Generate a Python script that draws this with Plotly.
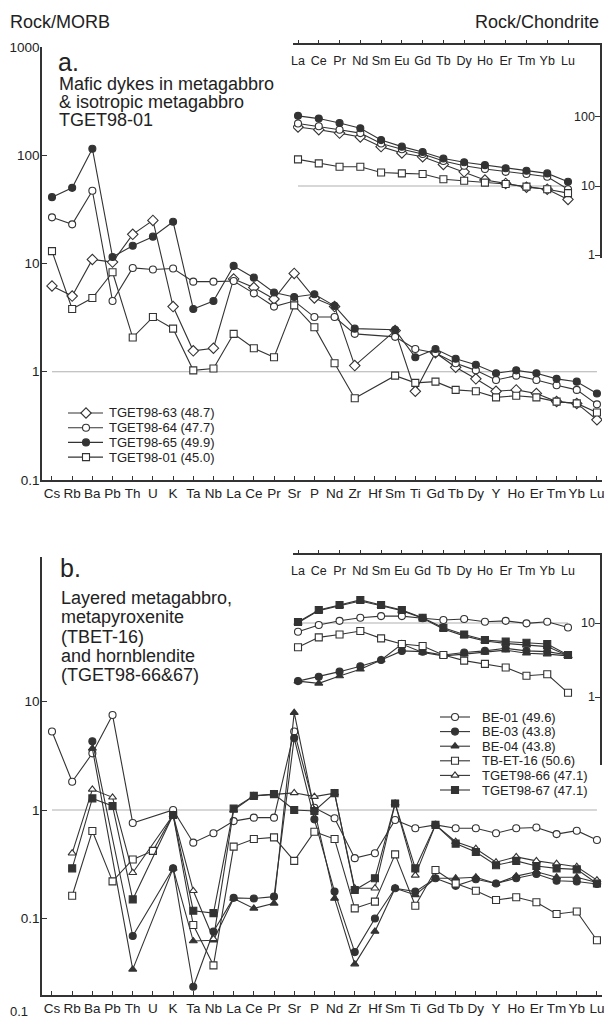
import math
import plotly.graph_objects as go

W, H = 606, 1019
FONT = "Liberation Sans, Arial, Helvetica, sans-serif"
INK = "#333333"
REF = "#b0b0b0"

# ---------------- element lists ----------------
ELEMENTS = ["Cs", "Rb", "Ba", "Pb", "Th", "U", "K", "Ta", "Nb", "La", "Ce", "Pr", "Sr", "P",
            "Nd", "Zr", "Hf", "Sm", "Ti", "Gd", "Tb", "Dy", "Y", "Ho", "Er", "Tm", "Yb", "Lu"]
REE = ["La", "Ce", "Pr", "Nd", "Sm", "Eu", "Gd", "Tb", "Dy", "Ho", "Er", "Tm", "Yb", "Lu"]

# ---------------- panel a: MORB-normalised ----------------
a_tget98_63 = [6.2, 5.0, 10.9, 10.3, 18.6, 25, 4.0, 1.56, 1.65, 7.2, 6.0, 4.7, 8.1, 4.8,
               4.0, 1.14, None, 2.4, 0.66, 1.5, 1.1, 0.86, 0.66, 0.68, 0.63, 0.53, 0.51, 0.36]
a_tget98_64 = [26.7, 23, 47, 4.5, 9.1, 8.8, 9.0, 6.8, 6.8, 6.9, 5.3, 4.0, 4.5, 3.2,
               3.2, 2.24, None, 2.1, 1.62, 1.49, 1.2, 1.03, 0.84, 0.92, 0.84, 0.75, 0.68, 0.50]
a_tget98_65 = [41, 50, 115, 11.5, 14.6, 17.7, 24.3, 3.8, 4.5, 9.5, 7.4, 5.4, 4.9, 5.2,
               4.06, 2.5, None, 2.44, 1.36, 1.62, 1.32, 1.16, 0.97, 1.03, 0.97, 0.86, 0.81, 0.63]
a_tget98_01 = [13, 3.8, 4.8, 8.3, 2.07, 3.2, 2.5, 1.03, 1.07, 2.24, 1.65, 1.36, 4.1, 2.58,
               1.2, 0.57, None, 0.92, 0.79, 0.81, 0.68, 0.66, 0.58, 0.60, 0.58, 0.53, 0.51, 0.42]

# ---------------- panel a inset: chondrite-normalised REE ----------------
ca_tget98_63 = [71, 65, 58, 51, 37, 30, 26.4, 20.5, 16, 12.2, 10.9, 9.6, 9.0, 6.4]
ca_tget98_64 = [80, 73, 65, 58, 41, 34, 29, 23, 19.6, 17.6, 16, 14.9, 13.6, 9.0]
ca_tget98_65 = [103, 94, 81, 68, 46, 37, 31, 25, 22, 20, 18, 16.6, 15.2, 11.5]
ca_tget98_01 = [24.2, 21.2, 19, 19, 15.7, 15.2, 14.9, 12.5, 11.9, 11.2, 10.7, 9.8, 9.0, 7.9]

# ---------------- panel b: MORB-normalised ----------------
b_be01 = [5.3, 1.82, 3.33, 7.5, 0.76, None, 1.0, 0.50, 0.61, 0.79, 0.85, 0.85, 5.3, 1.05,
          0.84, 0.36, 0.40, 0.81, 0.68, 0.73, 0.68, 0.68, 0.61, 0.68, 0.69, 0.60, 0.645, 0.53]
b_be03 = [None, None, 4.3, None, 0.069, None, 0.29, 0.0235, 0.076, 0.155, 0.153, 0.159, 4.6, 0.82,
          0.177, 0.049, 0.10, 0.19, 0.177, 0.235, 0.20, 0.23, 0.21, 0.235, 0.257, 0.223, 0.219, 0.208]
b_be04 = [None, None, 3.7, None, 0.034, None, 0.29, 0.062, 0.063, 0.153, 0.124, 0.138, 7.9, 1.0,
          0.153, 0.038, 0.076, 0.19, 0.165, 0.235, 0.235, 0.24, 0.21, 0.246, 0.27, 0.24, 0.24, 0.215]
b_tbet16 = [None, 0.162, 0.64, 0.22, 0.35, 0.42, 0.9, 0.087, 0.037, 0.46, 0.54, 0.56, 0.34, 0.63,
            0.54, 0.124, 0.143, 0.39, 0.131, 0.28, 0.21, 0.18, 0.148, 0.157, 0.141, 0.11, 0.116, 0.063]
b_tget98_66 = [None, 0.40, 1.55, 1.31, 0.264, None, 0.9, 0.18, 0.065, 1.0, 1.35, 1.40, 1.44, 1.33,
               1.43, 0.19, 0.19, 1.15, 0.25, 0.73, 0.51, 0.44, 0.33, 0.37, 0.34, 0.32, 0.30, 0.226]
b_tget98_67 = [None, 0.29, 1.28, 1.09, 0.15, None, 0.9, 0.118, 0.112, 1.03, 1.35, 1.40, 1.0, 0.98,
               1.43, 0.183, 0.235, 1.15, 0.29, 0.73, 0.49, 0.41, 0.31, 0.34, 0.305, 0.29, 0.284, 0.21]

# ---------------- panel b inset: chondrite-normalised REE ----------------
cb_be01 = [7.6, 9.4, 10.7, 11.8, 12.4, 12.4, 11.6, 11.0, 11.3, 10.4, 10.7, 9.9, 10.4, 8.7]
cb_be03 = [1.64, 1.88, 2.2, 2.6, 3.16, 4.2, 4.1, 3.7, 4.0, 4.2, 4.55, 4.2, 4.1, 3.7]
cb_be04 = [1.64, 1.53, 1.92, 2.37, 3.16, 5.2, 4.0, 3.6, 3.8, 4.0, 4.3, 3.9, 3.8, 3.6]
cb_tbet16 = [4.7, 6.4, 7.0, 7.8, 6.2, 5.2, 4.9, 3.7, 3.1, 2.8, 2.5, 1.94, 2.03, 1.14]
cb_tget98_66 = [10.1, 14.7, 17.1, 19.8, 17.1, 14.7, 11.6, 8.3, 6.7, 5.7, 5.3, 5.0, 4.8, 3.6]
cb_tget98_67 = [10.3, 15.0, 17.5, 20.5, 17.5, 15.0, 11.8, 8.6, 7.0, 5.9, 5.6, 5.4, 5.2, 3.7]

LABELS_A = ["TGET98-63 (48.7)", "TGET98-64 (47.7)", "TGET98-65 (49.9)", "TGET98-01 (45.0)"]
LABELS_B = ["BE-01 (49.6)", "BE-03 (43.8)", "BE-04 (43.8)", "TB-ET-16 (50.6)",
            "TGET98-66 (47.1)", "TGET98-67 (47.1)"]

# marker styles: (symbol, filled, size)
STY = {
    "diamond": ("diamond", False, 8),
    "circle": ("circle", False, 7),
    "dot": ("circle", True, 7),
    "square": ("square", False, 7),
    "tri": ("triangle-up", False, 7),
    "tri_f": ("triangle-up", True, 7),
    "square_f": ("square", True, 7),
}

SERIES_A = [
    ("diamond", a_tget98_63, ca_tget98_63),
    ("circle", a_tget98_64, ca_tget98_64),
    ("dot", a_tget98_65, ca_tget98_65),
    ("square", a_tget98_01, ca_tget98_01),
]
SERIES_B = [
    ("circle", b_be01, cb_be01),
    ("dot", b_be03, cb_be03),
    ("tri_f", b_be04, cb_be04),
    ("square", b_tbet16, cb_tbet16),
    ("tri", b_tget98_66, cb_tget98_66),
    ("square_f", b_tget98_67, cb_tget98_67),
]


def fx(px):
    return px / W


def fy(py):
    return 1 - py / H


def marker(style):
    sym, filled, size = STY[style]
    return dict(symbol=sym, size=size, color=INK if filled else "white",
                line=dict(color=INK, width=1.1))


fig = go.Figure()

# reference lines (normalised value = 1 for MORB, 10 for chondrite)
for xa, ya, n, val in [("x", "y", len(ELEMENTS), 1), ("x2", "y2", len(REE), 10),
                       ("x3", "y3", len(ELEMENTS), 1), ("x4", "y4", len(REE), 10)]:
    fig.add_trace(go.Scatter(x=[0, n - 1], y=[val, val], mode="lines", xaxis=xa, yaxis=ya,
                             line=dict(color=REF, width=1.2), hoverinfo="skip", showlegend=False))

xi = list(range(len(ELEMENTS)))
xr = list(range(len(REE)))

for series, (xm, ym, xc, yc) in [(SERIES_A, ("x", "y", "x2", "y2")),
                                  (SERIES_B, ("x3", "y3", "x4", "y4"))]:
    for style, morb, chon in series:
        fig.add_trace(go.Scatter(x=xi, y=morb, mode="lines+markers", connectgaps=True,
                                 xaxis=xm, yaxis=ym, line=dict(color=INK, width=1.1),
                                 marker=marker(style), showlegend=False))
        fig.add_trace(go.Scatter(x=xr, y=chon, mode="lines+markers", connectgaps=True,
                                 xaxis=xc, yaxis=yc, line=dict(color=INK, width=1.1),
                                 marker=marker(style), showlegend=False))

# legend keys drawn on a pixel-space overlay axis
annotations = []
for series, labels, y0, x_line0, x_line1, x_mark, x_text, step in [
        (SERIES_A, LABELS_A, 413, 68, 103, 86, 107, 14.7),
        (SERIES_B, LABELS_B, 717, 440, 470, 455, 480, 14.6)]:
    for k, ((style, _, _), lab) in enumerate(zip(series, labels)):
        yy = y0 + k * step
        fig.add_trace(go.Scatter(x=[x_line0, x_line1], y=[yy, yy], mode="lines",
                                 xaxis="x9", yaxis="y9", line=dict(color=INK, width=1.1),
                                 showlegend=False, hoverinfo="skip"))
        fig.add_trace(go.Scatter(x=[x_mark], y=[yy], mode="markers", xaxis="x9", yaxis="y9",
                                 marker=marker(style), showlegend=False, hoverinfo="skip"))
        annotations.append(dict(x=fx(x_text), y=fy(yy), xref="paper", yref="paper",
                                text=lab, showarrow=False, xanchor="left", yanchor="middle",
                                font=dict(family=FONT, size=13, color="#222")))


def text(x, y, s, size, anchor="left"):
    annotations.append(dict(x=fx(x), y=fy(y), xref="paper", yref="paper", text=s,
                            showarrow=False, xanchor=anchor, yanchor="middle",
                            font=dict(family=FONT, size=size, color="#222")))


text(8, 22, "Rock/MORB", 18)
text(601, 22, "Rock/Chondrite", 18, anchor="right")
text(56, 62, "a.", 25)
for k, line in enumerate(["Mafic dykes in metagabbro", "&amp; isotropic metagabbro", "TGET98-01"]):
    text(57, 84 + 18 * k, line, 18)
text(58, 568, "b.", 25)
for k, line in enumerate(["Layered metagabbro,", "metapyroxenite", "(TBET-16)",
                          "and hornblendite", "(TGET98-66&amp;67)"]):
    text(59, 598 + 19.3 * k, line, 18)
text(8, 1011, "0.1", 13)


def minor_vals(lo, hi):
    vals = []
    dec = lo
    while dec < hi * 0.999:
        for m in range(2, 10):
            v = m * dec
            if v <= hi:
                vals.append(round(v, 6))
        dec *= 10
    return vals


tickfont = dict(family=FONT, size=13.5, color="#222")
base = dict(showgrid=False, zeroline=False, showline=True, linecolor=INK, linewidth=1.5,
            tickcolor=INK, tickwidth=1, tickfont=tickfont, fixedrange=True)

main_x = dict(base, tickmode="array", tickvals=xi, ticktext=ELEMENTS, ticks="inside",
              ticklen=4, tickangle=0, range=[-0.495, 27.25], domain=[fx(42), fx(602)])
ree_x = dict(base, tickmode="array", tickvals=xr, ticktext=REE, ticks="outside", ticklen=3,
             tickangle=0, side="top", ticklabelposition="inside", ticklabeloverflow="allow",
             ticklabelstandoff=11, range=[-0.241, 14.54],
             domain=[fx(293), fx(600)], tickfont=dict(family=FONT, size=12.5, color="#222"))

# log axes: (name, x anchor, pixel top, pixel bottom, log range, labelled ticks, minor span, side)
LOG_AXES = [
    ("yaxis", "x", 47, 480, [-1, 3], [0.1, 1, 10, 100, 1000], (0.1, 1000), "left"),
    ("yaxis2", "x2", 45, 258, [-0.039, 3.035], [1, 10, 100], (1, 1000), "right"),
    ("yaxis3", "x3", 557, 995, [-1.705, 2.332], [0.1, 1, 10], (0.01, 10), "left"),
    ("yaxis4", "x4", 555, 765, [-0.919, 1.919], [1, 10], (0.1, 100), "right"),
]

axes = dict(
    xaxis=dict(main_x, anchor="y"),
    xaxis2=dict(ree_x, anchor="y2"),
    xaxis3=dict(main_x, anchor="y3"),
    xaxis4=dict(ree_x, anchor="y4"),
    xaxis9=dict(domain=[0, 1], range=[0, W], visible=False, fixedrange=True, anchor="y9"),
    yaxis9=dict(domain=[0, 1], range=[H, 0], visible=False, fixedrange=True, anchor="x9"),
)

for k, (name, xa, top, bot, rng, major, span, side) in enumerate(LOG_AXES):
    labels = [f"{v:g}" for v in major]
    axes[name] = dict(base, type="log", anchor=xa, domain=[fy(bot), fy(top)], range=rng,
                      tickmode="array", tickvals=major, ticktext=labels, ticks="inside",
                      ticklen=5, side=side, showticklabels=(side == "left"),
                      ticklabelstandoff=-2)
    # shorter unlabelled ticks for intermediate values, on a twin axis
    twin = "yaxis" + str(5 + k)
    axes[twin] = dict(type="log", overlaying="y" + name[5:], anchor=xa, range=rng,
                      side=side, tickmode="array", tickvals=minor_vals(*span),
                      ticktext=[""] * len(minor_vals(*span)), ticks="inside", ticklen=3,
                      tickcolor=INK, tickwidth=1, showline=False, showgrid=False,
                      zeroline=False, fixedrange=True)
    if side == "right":
        # inset scale numbers placed at their log positions, just left of the axis line
        yref = "y" + name[5:]
        for v, lab in zip(major, labels):
            annotations.append(dict(x=fx(597), y=math.log10(v), xref="paper", yref=yref,
                                    text=lab, showarrow=False, xanchor="right",
                                    yanchor="middle",
                                    font=dict(family=FONT, size=12.5, color="#222")))

fig.update_layout(width=W, height=H, margin=dict(l=0, r=0, t=0, b=0, autoexpand=False),
                  paper_bgcolor="white", plot_bgcolor="rgba(0,0,0,0)", showlegend=False,
                  annotations=annotations, font=dict(family=FONT), **axes)

fig.write_html("out.html")
